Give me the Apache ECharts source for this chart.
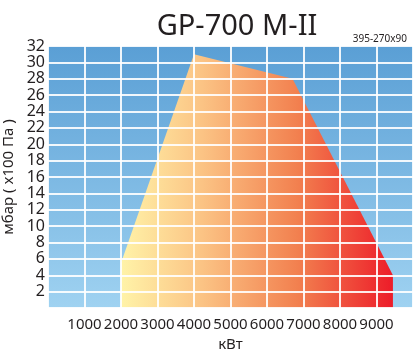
<!DOCTYPE html>
<html><head><meta charset="utf-8">
<script src="https://cdn.jsdelivr.net/npm/echarts@6/dist/echarts.min.js"></script>
<style>html,body{margin:0;padding:0;background:#fff}#c{width:414px;height:349px}</style>
</head><body><div id="c"></div>
<script>
var title = "GP-700 M-II";
var subtitle = "395-270x90";
var xName = "кВт";
var yName = "мбар ( x100 Па )";
var envelopeKW = [2000, 2000, 4000, 6700, 9450, 9450];
var envelopeMbar = [0, 5.5, 31, 28, 4, 0];

var data = envelopeKW.map(function (x, i) { return [x, envelopeMbar[i]]; });
var chart = echarts.init(document.getElementById('c'));
var font = '"Noto Sans", "Open Sans", sans-serif';
chart.setOption({
  animation: false,
  title: [
    {text: title, left: 232, top: 7, textAlign: 'center',
     textStyle: {fontSize: 29, fontWeight: 'normal', color: '#231f20', fontFamily: font}},
    {text: subtitle, right: 2, top: 29,
     textStyle: {fontSize: 10, fontWeight: 'normal', color: '#231f20', fontFamily: font}}
  ],
  grid: {left: 48, right: 1, top: 46, bottom: 41, show: true, borderWidth: 0,
    containLabel: false, outerBoundsMode: 'none',
    backgroundColor: new echarts.graphic.LinearGradient(0, 0, 0, 1, [
      {offset: 0, color: '#5a9fd5'}, {offset: 1, color: '#9fd2f1'}])},
  xAxis: {type: 'value', min: 0, max: 10000, interval: 1000, z: 5,
    name: xName, nameLocation: 'middle', nameGap: 25,
    nameTextStyle: {fontSize: 15, color: '#231f20', fontFamily: font},
    axisLine: {show: false}, axisTick: {show: false},
    axisLabel: {fontSize: 15, color: '#231f20', fontFamily: font, margin: 9,
      formatter: function (v) { return (v === 0 || v === 10000) ? '' : v; }},
    splitLine: {show: true, lineStyle: {color: 'rgba(255,255,255,0.9)', width: 2}}},
  yAxis: {type: 'value', min: 0, max: 32, interval: 2, z: 5,
    name: yName, nameLocation: 'middle', nameGap: 30, nameRotate: 90,
    nameTextStyle: {fontSize: 15, color: '#231f20', fontFamily: font},
    axisLine: {show: false}, axisTick: {show: false},
    axisLabel: {fontSize: 16, color: '#231f20', fontFamily: font, margin: 3,
      padding: [0, 0, 6, 0],
      formatter: function (v) { return v === 0 ? '' : v; }},
    splitLine: {show: true, lineStyle: {color: 'rgba(255,255,255,0.9)', width: 2}}},
  series: [{
    type: 'line', data: data, symbol: 'none', z: 2,
    lineStyle: {width: 0},
    areaStyle: {opacity: 1, color: new echarts.graphic.LinearGradient(0, 0, 1, 0, [
      {offset: 0, color: '#fff3a8'},
      {offset: 0.3, color: '#fbc384'},
      {offset: 0.65, color: '#f2804f'},
      {offset: 1, color: '#ed1c29'}])}
  }]
});
</script></body></html>
